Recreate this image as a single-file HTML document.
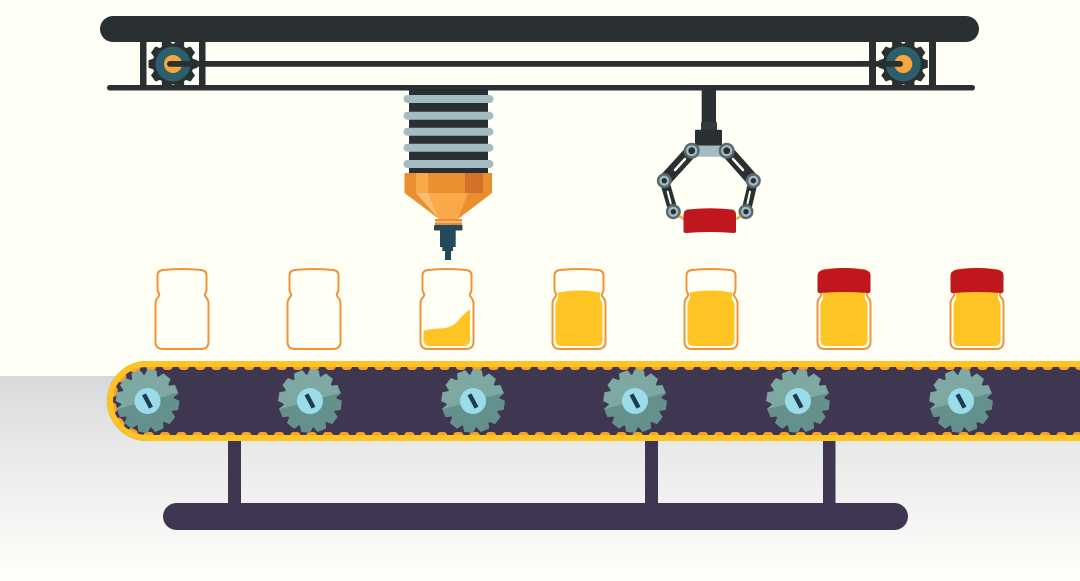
<!DOCTYPE html>
<html><head><meta charset="utf-8"><style>html,body{margin:0;padding:0;background:#fffff6}svg{display:block}</style></head><body>
<svg width="1080" height="581" viewBox="0 0 1080 581" xmlns="http://www.w3.org/2000/svg">
<defs>
<linearGradient id="fl" x1="0" y1="0" x2="0" y2="1"><stop offset="0" stop-color="#d8d9da"/><stop offset=".35" stop-color="#e8e9e9"/><stop offset="1" stop-color="#fffffb"/></linearGradient>
<clipPath id="lo"><rect x="-40" y="0" width="80" height="40"/></clipPath>
<polygon id="tooth" points="-6.500,-25 6.500,-25 4.500,-31.500 -4.500,-31.500"/>
<g id="cog">
<circle r="26.500"/>
<use href="#tooth"/><use href="#tooth" transform="rotate(30)"/><use href="#tooth" transform="rotate(60)"/><use href="#tooth" transform="rotate(90)"/><use href="#tooth" transform="rotate(120)"/><use href="#tooth" transform="rotate(150)"/><use href="#tooth" transform="rotate(180)"/><use href="#tooth" transform="rotate(210)"/><use href="#tooth" transform="rotate(240)"/><use href="#tooth" transform="rotate(270)"/><use href="#tooth" transform="rotate(300)"/><use href="#tooth" transform="rotate(330)"/>
</g>
<g id="gear">
<use href="#cog" fill="#7ea8a2" transform="rotate(8)"/>
<g transform="rotate(-15)"><g clip-path="url(#lo)"><use href="#cog" fill="#64918c" transform="rotate(23)"/></g></g>
<circle r="13" fill="#9bdcea"/>
<rect x="-2.200" y="-7.500" width="4.400" height="15" fill="#1c3b50" transform="rotate(-28)"/>
</g>
<polygon id="tt" points="-5.500,-19 5.500,-19 3.800,-24.500 -3.800,-24.500"/>
<g id="tg" fill="#2a2f31">
<circle r="20.500"/>
<use href="#tt" transform="rotate(18)"/><use href="#tt" transform="rotate(54)"/><use href="#tt" transform="rotate(90)"/><use href="#tt" transform="rotate(126)"/><use href="#tt" transform="rotate(162)"/><use href="#tt" transform="rotate(198)"/><use href="#tt" transform="rotate(234)"/><use href="#tt" transform="rotate(270)"/><use href="#tt" transform="rotate(306)"/><use href="#tt" transform="rotate(342)"/>
</g>
<path id="jo" fill="none" d="M-24.500 6 Q-24.500 1 -19 .5 Q0 -1.500 19 .5 Q24.500 1 24.500 6 V19 Q24.500 23 23 24 Q22 26 25 29 Q26.500 31 26.500 35 V72 Q26.500 79.500 19 79.500 H-19 Q-26.500 79.500 -26.500 72 V35 Q-26.500 31 -25 29 Q-22 26 -23 24 Q-24.500 23 -24.500 19 Z"/>
<path id="jf" d="M-21 23 Q0 19 21 23 V26 Q20.500 29 22.500 32 Q23.500 34 23.500 37 V70 Q23.500 76.500 17 76.500 H-17 Q-23.500 76.500 -23.500 70 V37 Q-23.500 34 -22.500 32 Q-20.500 29 -21 26 Z"/>
<g id="piv"><circle r="7.500" fill="#5a6a70"/><circle r="5" fill="#a3bcc4"/><circle r="2.700" fill="#2a2f31"/></g>
</defs>
<rect width="1080" height="581" fill="#fffff6"/>
<rect y="376" width="1080" height="205" fill="url(#fl)"/>

<!-- top rig -->
<g fill="#2a2f31">
<rect x="140" y="40" width="6.500" height="47"/><rect x="199" y="40" width="6.500" height="47"/>
<rect x="869" y="40" width="7" height="47"/><rect x="929" y="40" width="7" height="47"/>
</g>
<use href="#tg" x="173" y="64"/><use href="#tg" x="903.300" y="64"/>
<circle cx="173" cy="64" r="17.500" fill="#2d5e6c"/><circle cx="903.300" cy="64" r="17.500" fill="#2d5e6c"/>
<circle cx="173" cy="64" r="9" fill="#f7a63e"/><circle cx="903.300" cy="64" r="9" fill="#f7a63e"/>
<rect x="100" y="16" width="879" height="26" rx="13" fill="#2a2f31"/>
<rect x="107" y="85" width="868" height="5.500" rx="2.700" fill="#2a2f31"/>
<rect x="167" y="61" width="736" height="5.800" rx="2.900" fill="#2a2f31"/>

<!-- dispenser -->
<rect x="409" y="85" width="79" height="89" fill="#2a2f31"/>
<g fill="#a3bcc4">
<rect x="403.500" y="95" width="90" height="8" rx="4"/>
<rect x="403.500" y="111.700" width="90" height="8" rx="4"/>
<rect x="403.500" y="127.700" width="90" height="8" rx="4"/>
<rect x="403.500" y="143.700" width="90" height="8" rx="4"/>
<rect x="403.500" y="160" width="90" height="8" rx="4"/>
</g>
<path d="M404.500 173 H492 V193 L458 219 H439 L404.500 193 Z" fill="#ea8f2e"/>
<path d="M428 193 H468 L458 219 H439 Z" fill="#f9a84a"/>
<path d="M416 193 H428 L439 219 Z" fill="#f6bc70"/>
<rect x="416" y="173" width="12.300" height="20" fill="#f9a84a"/>
<rect x="465" y="173" width="18" height="20" fill="#d4702a"/>
<rect x="435" y="219" width="27" height="2.500" fill="#ea8f2e"/>
<rect x="436" y="221.500" width="25" height="1" fill="#fde3bf"/>
<rect x="435" y="222.500" width="27" height="2.500" fill="#e8873a"/>
<rect x="434" y="225" width="28.500" height="5.500" rx="1" fill="#24495a"/>
<rect x="440" y="230" width="15.700" height="17" fill="#24495a"/>
<rect x="442.300" y="246" width="10.700" height="5" fill="#24495a"/>
<rect x="445" y="250" width="6" height="10" fill="#24495a"/>

<!-- claw -->
<rect x="701.700" y="88" width="14.300" height="36" fill="#2a2f31"/>
<rect x="701" y="122" width="16" height="9" rx="1" fill="#343a3d"/>
<rect x="695" y="129.700" width="27" height="16" rx="1" fill="#2a2f31"/>
<g stroke="#2a2f31" fill="none">
<path d="M691.700 150.700 L664.300 180.700 M726.700 150.700 L753.300 180.700" stroke-width="13"/>
<path d="M664.300 180.700 L673.300 211.700 M753.300 180.700 L746 211.700" stroke-width="9.500"/>
</g>
<g stroke="#fffff6" fill="none" stroke-linecap="round">
<path d="M675 170 L685 159 M743 170 L733 159" stroke-width="2.500"/>
<path d="M667.700 191.700 L670.700 203.300 M750 191.700 L747.500 203.300" stroke-width="2"/>
</g>
<rect x="691" y="145.700" width="36" height="11" fill="#a3bcc4"/>
<g transform="translate(691.700 150.700)"><circle r="8" fill="#5a6a70"/><circle r="5.500" fill="#a3bcc4"/><circle r="3.400" fill="#2a2f31"/></g>
<g transform="translate(726.700 150.700)"><circle r="8" fill="#5a6a70"/><circle r="5.500" fill="#a3bcc4"/><circle r="3.400" fill="#2a2f31"/></g>
<use href="#piv" x="664.300" y="180.700"/><use href="#piv" x="753.300" y="180.700"/>
<use href="#piv" x="673.300" y="211.700"/><use href="#piv" x="746" y="211.700"/>
<path d="M679 216 L684 219 M741 216 L736 219" stroke="#f7a63e" stroke-width="2.500"/>
<path d="M683.500 215 Q684 209.500 688 209.500 Q710 207 732 209.500 Q736 210 736 215 V231 Q736 233 734 233 Q710 231 686 233 Q683.500 233 683.500 231 Z" fill="#bf171d"/>

<!-- jars -->
<g stroke="#f0923a" stroke-width="2">
<use href="#jo" x="182" y="269.500"/>
<use href="#jo" x="314" y="269.500"/>
<use href="#jo" x="447" y="269.500"/>
<use href="#jo" x="579" y="269.500"/>
<use href="#jo" x="711" y="269.500"/>
<use href="#jo" x="844" y="269.500"/>
<use href="#jo" x="977" y="269.500"/>
</g>
<path d="M423.500 331 Q428 329 440 328.500 Q452 328 458 321 Q464 313 470 309.500 V339 Q470 346 463 346 H430 Q423.500 346 423.500 339 Z" fill="#fdc424"/>
<use href="#jf" x="579" y="269.500" fill="#fdc424"/>
<use href="#jf" x="711" y="269.500" fill="#fdc424"/>
<use href="#jf" x="844" y="269.500" fill="#fdc424"/>
<use href="#jf" x="977" y="269.500" fill="#fdc424"/>
<path d="M817.500 275 Q818 271 823 270 Q844 266 865 270 Q870.500 271 870.500 275 V291 Q870.500 293 868 293 Q844 291 820 293 Q817.500 293 817.500 291 Z" fill="#bf171d"/>
<path d="M950.500 275 Q951 271 956 270 Q977 266 998 270 Q1003.500 271 1003.500 275 V291 Q1003.500 293 1001 293 Q977 291 953 293 Q950.500 293 950.500 291 Z" fill="#bf171d"/>

<!-- legs -->
<g fill="#3f3752">
<rect x="228" y="438" width="13" height="68"/>
<rect x="645" y="438" width="13" height="68"/>
<rect x="823" y="438" width="12.500" height="68"/>
<rect x="163" y="503" width="745" height="27" rx="13.500"/>
</g>

<!-- conveyor -->
<path d="M1080 361 H147 A40 40 0 0 0 147 441 H1080 Z" fill="#3f3752"/>
<path d="M1082 366.500 H147 A34.500 34.500 0 0 0 147 435.500 H1082" fill="none" stroke="#f7a12c" stroke-width="7" stroke-linecap="round" stroke-dasharray="3.300 13"/>
<path d="M1082 364 H147 A37 37 0 0 0 147 438 H1082" fill="none" stroke="#fdc424" stroke-width="6"/>
<use href="#gear" x="147.500" y="401"/>
<use href="#gear" x="310" y="401"/>
<use href="#gear" x="473" y="401"/>
<use href="#gear" x="635" y="401"/>
<use href="#gear" x="798" y="401"/>
<use href="#gear" x="961" y="401"/>
</svg>
</body></html>
